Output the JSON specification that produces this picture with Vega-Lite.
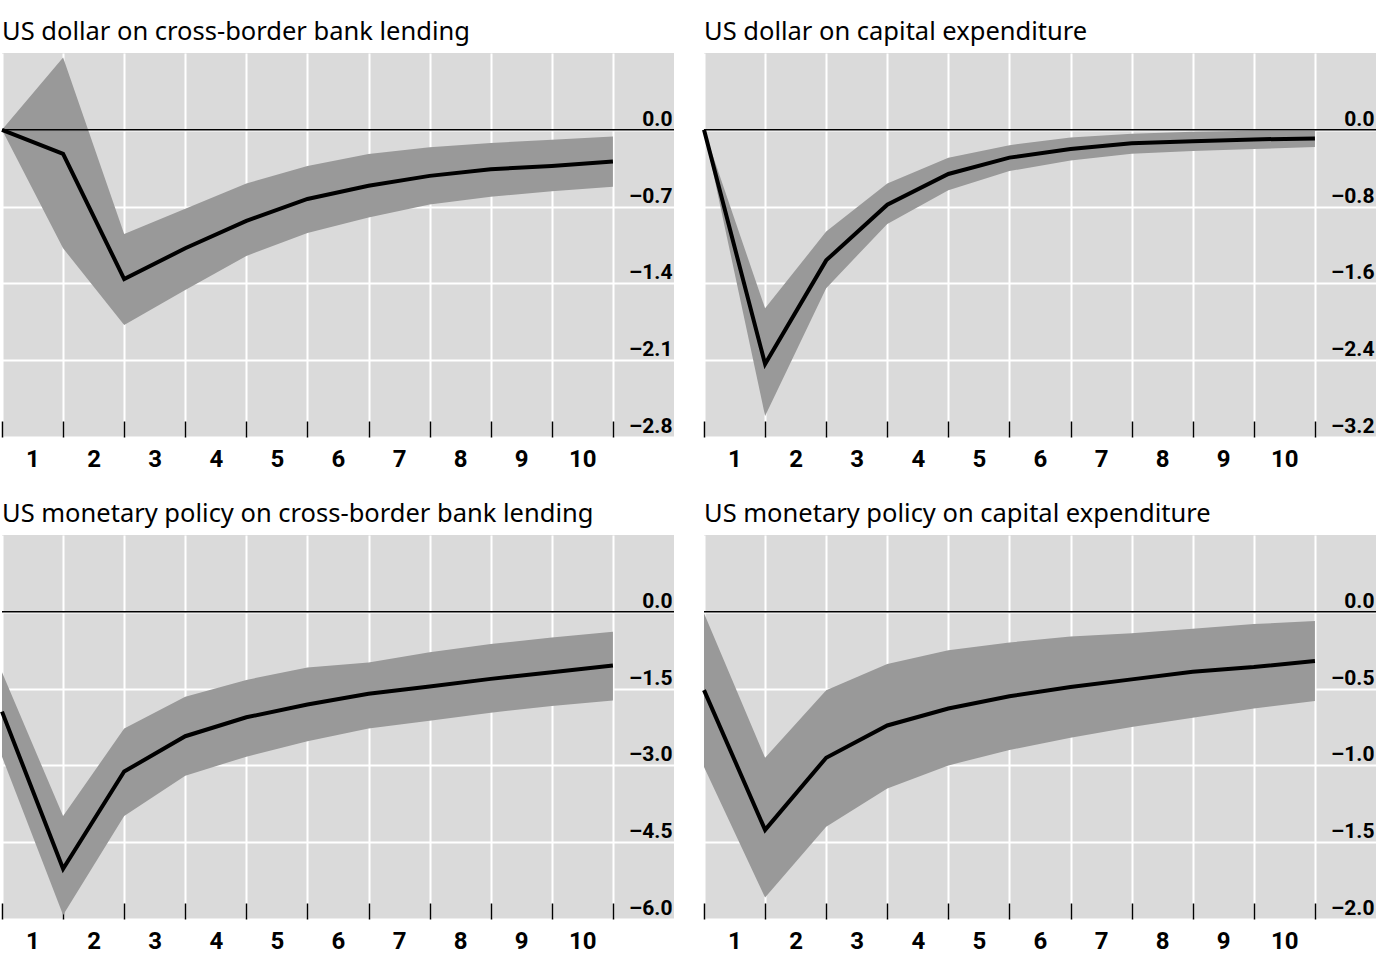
{
  "$schema": "https://vega.github.io/schema/vega-lite/v6.json",
  "background": "white",
  "padding": {"left": -6, "top": 19, "right": 0, "bottom": 0},
  "datasets": {
    "irf": [
      {"panel": "p1", "t": 0, "est": 0, "hi": 0, "lo": 0},
      {"panel": "p1", "t": 1, "est": -0.22, "hi": 0.66, "lo": -1.08},
      {"panel": "p1", "t": 2, "est": -1.36, "hi": -0.95, "lo": -1.78},
      {"panel": "p1", "t": 3, "est": -1.08, "hi": -0.72, "lo": -1.46},
      {"panel": "p1", "t": 4, "est": -0.83, "hi": -0.49, "lo": -1.15},
      {"panel": "p1", "t": 5, "est": -0.63, "hi": -0.33, "lo": -0.94},
      {"panel": "p1", "t": 6, "est": -0.51, "hi": -0.22, "lo": -0.8},
      {"panel": "p1", "t": 7, "est": -0.42, "hi": -0.16, "lo": -0.68},
      {"panel": "p1", "t": 8, "est": -0.36, "hi": -0.12, "lo": -0.61},
      {"panel": "p1", "t": 9, "est": -0.33, "hi": -0.09, "lo": -0.56},
      {"panel": "p1", "t": 10, "est": -0.29, "hi": -0.06, "lo": -0.52},
      {"panel": "p2", "t": 0, "est": 0, "hi": 0, "lo": 0},
      {"panel": "p2", "t": 1, "est": -2.44, "hi": -1.86, "lo": -2.98},
      {"panel": "p2", "t": 2, "est": -1.36, "hi": -1.06, "lo": -1.65},
      {"panel": "p2", "t": 3, "est": -0.78, "hi": -0.56, "lo": -0.98},
      {"panel": "p2", "t": 4, "est": -0.46, "hi": -0.29, "lo": -0.63},
      {"panel": "p2", "t": 5, "est": -0.29, "hi": -0.16, "lo": -0.43},
      {"panel": "p2", "t": 6, "est": -0.2, "hi": -0.08, "lo": -0.32},
      {"panel": "p2", "t": 7, "est": -0.14, "hi": -0.04, "lo": -0.25},
      {"panel": "p2", "t": 8, "est": -0.12, "hi": -0.02, "lo": -0.22},
      {"panel": "p2", "t": 9, "est": -0.1, "hi": -0.01, "lo": -0.2},
      {"panel": "p2", "t": 10, "est": -0.09, "hi": -0.01, "lo": -0.18},
      {"panel": "p3", "t": 0, "est": -1.95, "hi": -1.18, "lo": -2.83},
      {"panel": "p3", "t": 1, "est": -5.02, "hi": -3.99, "lo": -5.92},
      {"panel": "p3", "t": 2, "est": -3.12, "hi": -2.28, "lo": -3.99},
      {"panel": "p3", "t": 3, "est": -2.43, "hi": -1.66, "lo": -3.2},
      {"panel": "p3", "t": 4, "est": -2.06, "hi": -1.33, "lo": -2.83},
      {"panel": "p3", "t": 5, "est": -1.81, "hi": -1.09, "lo": -2.53},
      {"panel": "p3", "t": 6, "est": -1.6, "hi": -0.99, "lo": -2.28},
      {"panel": "p3", "t": 7, "est": -1.46, "hi": -0.79, "lo": -2.13},
      {"panel": "p3", "t": 8, "est": -1.31, "hi": -0.63, "lo": -1.97},
      {"panel": "p3", "t": 9, "est": -1.18, "hi": -0.5, "lo": -1.84},
      {"panel": "p3", "t": 10, "est": -1.05, "hi": -0.39, "lo": -1.73},
      {"panel": "p4", "t": 0, "est": -0.51, "hi": -0.01, "lo": -1.01},
      {"panel": "p4", "t": 1, "est": -1.42, "hi": -0.95, "lo": -1.86},
      {"panel": "p4", "t": 2, "est": -0.95, "hi": -0.51, "lo": -1.4},
      {"panel": "p4", "t": 3, "est": -0.74, "hi": -0.34, "lo": -1.15},
      {"panel": "p4", "t": 4, "est": -0.63, "hi": -0.25, "lo": -1.0},
      {"panel": "p4", "t": 5, "est": -0.55, "hi": -0.2, "lo": -0.9},
      {"panel": "p4", "t": 6, "est": -0.49, "hi": -0.16, "lo": -0.82},
      {"panel": "p4", "t": 7, "est": -0.44, "hi": -0.14, "lo": -0.75},
      {"panel": "p4", "t": 8, "est": -0.39, "hi": -0.11, "lo": -0.69},
      {"panel": "p4", "t": 9, "est": -0.36, "hi": -0.08, "lo": -0.63},
      {"panel": "p4", "t": 10, "est": -0.32, "hi": -0.06, "lo": -0.58}
    ]
  },
  "columns": 2,
  "spacing": {"column": 21, "row": 30},
  "concat": [
    {
      "width": 672,
      "height": 384,
      "title": "US dollar on cross-border bank lending",
      "layer": [
        {
          "data": {"name": "irf"},
          "transform": [{"filter": "datum.panel === 'p1'"}],
          "mark": {"type": "area", "color": "#999999", "opacity": 1},
          "encoding": {
            "x": {"field": "t", "type": "quantitative", "scale": {"domain": [0, 11], "nice": false}, "axis": {"values": [0, 1, 2, 3, 4, 5, 6, 7, 8, 9, 10]}},
            "y": {"field": "lo", "type": "quantitative", "scale": {"domain": [-2.8, 0.7], "nice": false, "zero": false}, "axis": {"orient": "right", "values": [0, -0.7, -1.4, -2.1, -2.8]}},
            "y2": {"field": "hi"}
          }
        },
        {
          "data": {"values": [{}]},
          "mark": {"type": "rule", "color": "black", "strokeWidth": 1.5},
          "encoding": {"y": {"datum": 0}}
        },
        {
          "data": {"name": "irf"},
          "transform": [{"filter": "datum.panel === 'p1'"}],
          "mark": {"type": "line", "color": "black", "strokeWidth": 4},
          "encoding": {
            "x": {"field": "t", "type": "quantitative"},
            "y": {"field": "est", "type": "quantitative"}
          }
        }
      ]
    },
    {
      "width": 672,
      "height": 384,
      "title": "US dollar on capital expenditure",
      "layer": [
        {
          "data": {"name": "irf"},
          "transform": [{"filter": "datum.panel === 'p2'"}],
          "mark": {"type": "area", "color": "#999999", "opacity": 1},
          "encoding": {
            "x": {"field": "t", "type": "quantitative", "scale": {"domain": [0, 11], "nice": false}, "axis": {"values": [0, 1, 2, 3, 4, 5, 6, 7, 8, 9, 10]}},
            "y": {"field": "lo", "type": "quantitative", "scale": {"domain": [-3.2, 0.8], "nice": false, "zero": false}, "axis": {"orient": "right", "values": [0, -0.8, -1.6, -2.4, -3.2]}},
            "y2": {"field": "hi"}
          }
        },
        {
          "data": {"values": [{}]},
          "mark": {"type": "rule", "color": "black", "strokeWidth": 1.5},
          "encoding": {"y": {"datum": 0}}
        },
        {
          "data": {"name": "irf"},
          "transform": [{"filter": "datum.panel === 'p2'"}],
          "mark": {"type": "line", "color": "black", "strokeWidth": 4},
          "encoding": {
            "x": {"field": "t", "type": "quantitative"},
            "y": {"field": "est", "type": "quantitative"}
          }
        }
      ]
    },
    {
      "width": 672,
      "height": 384,
      "title": "US monetary policy on cross-border bank lending",
      "layer": [
        {
          "data": {"name": "irf"},
          "transform": [{"filter": "datum.panel === 'p3'"}],
          "mark": {"type": "area", "color": "#999999", "opacity": 1},
          "encoding": {
            "x": {"field": "t", "type": "quantitative", "scale": {"domain": [0, 11], "nice": false}, "axis": {"values": [0, 1, 2, 3, 4, 5, 6, 7, 8, 9, 10]}},
            "y": {"field": "lo", "type": "quantitative", "scale": {"domain": [-6, 1.5], "nice": false, "zero": false}, "axis": {"orient": "right", "values": [0, -1.5, -3, -4.5, -6]}},
            "y2": {"field": "hi"}
          }
        },
        {
          "data": {"values": [{}]},
          "mark": {"type": "rule", "color": "black", "strokeWidth": 1.5},
          "encoding": {"y": {"datum": 0}}
        },
        {
          "data": {"name": "irf"},
          "transform": [{"filter": "datum.panel === 'p3'"}],
          "mark": {"type": "line", "color": "black", "strokeWidth": 4},
          "encoding": {
            "x": {"field": "t", "type": "quantitative"},
            "y": {"field": "est", "type": "quantitative"}
          }
        }
      ]
    },
    {
      "width": 672,
      "height": 384,
      "title": "US monetary policy on capital expenditure",
      "layer": [
        {
          "data": {"name": "irf"},
          "transform": [{"filter": "datum.panel === 'p4'"}],
          "mark": {"type": "area", "color": "#999999", "opacity": 1},
          "encoding": {
            "x": {"field": "t", "type": "quantitative", "scale": {"domain": [0, 11], "nice": false}, "axis": {"values": [0, 1, 2, 3, 4, 5, 6, 7, 8, 9, 10]}},
            "y": {"field": "lo", "type": "quantitative", "scale": {"domain": [-2, 0.5], "nice": false, "zero": false}, "axis": {"orient": "right", "values": [0, -0.5, -1, -1.5, -2]}},
            "y2": {"field": "hi"}
          }
        },
        {
          "data": {"values": [{}]},
          "mark": {"type": "rule", "color": "black", "strokeWidth": 1.5},
          "encoding": {"y": {"datum": 0}}
        },
        {
          "data": {"name": "irf"},
          "transform": [{"filter": "datum.panel === 'p4'"}],
          "mark": {"type": "line", "color": "black", "strokeWidth": 4},
          "encoding": {
            "x": {"field": "t", "type": "quantitative"},
            "y": {"field": "est", "type": "quantitative"}
          }
        }
      ]
    }
  ],
  "config": {
    "font": "Roboto",
    "view": {"fill": "#dadada", "stroke": null},
    "title": {"anchor": "start", "frame": "group", "font": "Noto Sans", "fontSize": 25.5, "fontWeight": "normal", "color": "black", "baseline": "alphabetic", "offset": 8},
    "axisX": {
      "title": null,
      "domain": false,
      "grid": true,
      "gridColor": "white",
      "gridWidth": 2,
      "gridOpacity": 1,
      "ticks": true,
      "tickSize": -16,
      "tickColor": "black",
      "tickWidth": 1.5,
      "labelOffset": 30.5,
      "labelPadding": 26,
      "labelFlush": false,
      "labelOverlap": false,
      "labelFontSize": 24,
      "labelFontWeight": "bold",
      "labelColor": "black",
      "labelExpr": "datum.value < 10 ? '' + (datum.value + 1) : ''"
    },
    "axisY": {
      "title": null,
      "domain": false,
      "grid": true,
      "gridColor": "white",
      "gridWidth": 2,
      "gridOpacity": 1,
      "ticks": false,
      "labelAlign": "right",
      "labelPadding": -2,
      "labelBaseline": "alphabetic",
      "labelOffset": -4.5,
      "labelFlush": false,
      "labelOverlap": false,
      "labelFontSize": 21,
      "labelFontWeight": "bold",
      "labelColor": "black",
      "labelExpr": "datum.value < 0 ? '–' + format(-datum.value, '.1f') : format(datum.value, '.1f')"
    }
  }
}
